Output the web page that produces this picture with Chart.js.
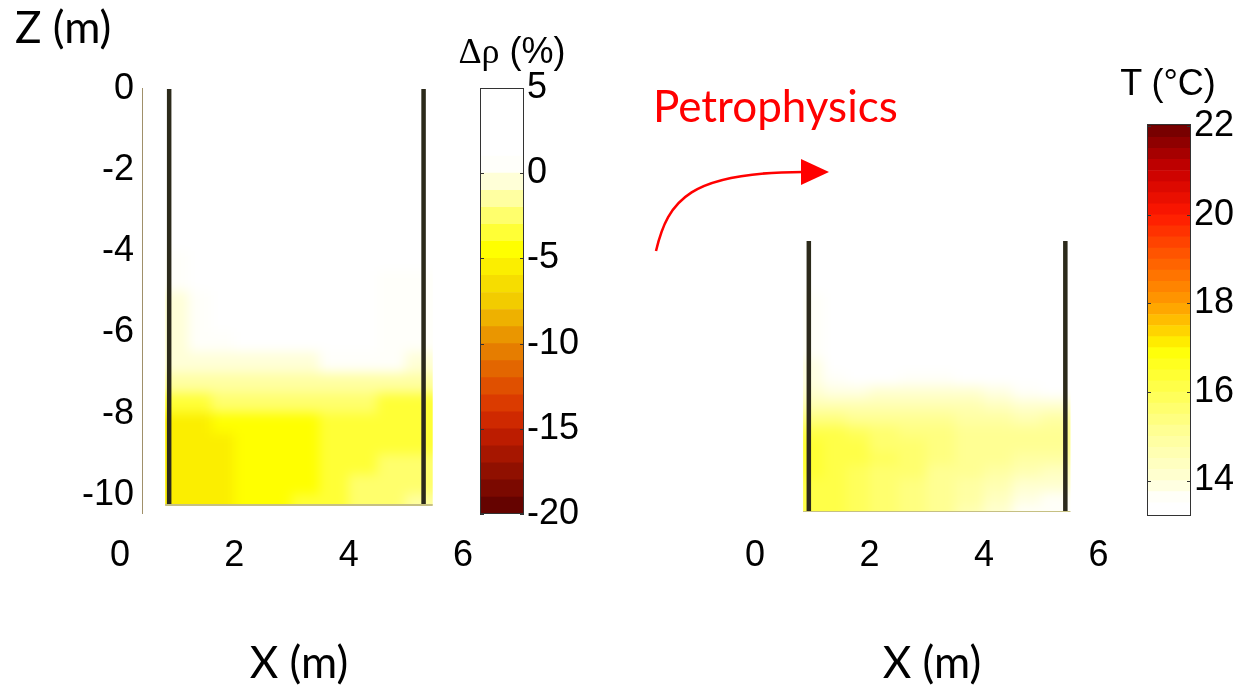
<!DOCTYPE html>
<html>
<head>
<meta charset="utf-8">
<script src="https://cdn.jsdelivr.net/npm/chart.js@4.4.0/dist/chart.umd.min.js"></script>
<style>
  html, body { margin: 0; padding: 0; background: #fff; }
  #stage { position: relative; width: 1240px; height: 688px; overflow: hidden; background: #fff; }
  #stage canvas, #stage svg { position: absolute; left: 0; top: 0; }
  .lbl { position: absolute; white-space: nowrap; line-height: 1; color: #000; }
  .cal { font-family: Lato, "Open Sans", sans-serif; font-size: 44px; }
  .hel { font-family: "Liberation Sans", Arial, sans-serif; font-size: 36px; }
  .gr { font-family: "Liberation Serif", "DejaVu Serif", serif; }
  .mid { transform: translateX(-50%); }
</style>
</head>
<body>
<div id="stage">
  <canvas id="rhoMap" width="1240" height="688"></canvas>
  <canvas id="rhoBar" width="1240" height="688"></canvas>
  <canvas id="tMap" width="1240" height="688"></canvas>
  <canvas id="tBar" width="1240" height="688"></canvas>
  <svg width="1240" height="688" viewBox="0 0 1240 688">
    <path d="M656,251 C668,200 690,172 803,172" stroke="#ff0000" stroke-width="2.5" fill="none"/>
    <polygon points="801,159 829,172 801,185" fill="#ff0000"/>
  </svg>
  <div class="lbl cal" style="left:15px; top:4px;">Z (m)</div>
  <div class="lbl cal" style="left:653px; top:83px; color:#ff0000;">Petrophysics</div>
  <div class="lbl cal mid" style="left:299px; top:639px;">X (m)</div>
  <div class="lbl cal mid" style="left:932px; top:639px;">X (m)</div>
  <div class="lbl hel mid" style="left:512px; top:33px;"><span class="gr">Δρ</span> (%)</div>
  <div class="lbl hel mid" style="left:1168px; top:65px;">T (°C)</div>
</div>
<script>
// ---- tick labels ----
const xTicks = [0, 2, 4, 6];
const zTicks = [0, -2, -4, -6, -8, -10];
const rhoTicks = [5, 0, -5, -10, -15, -20];
const tempTicks = [14, 16, 18, 20, 22];

// ---- colour-scale ranges ----
const rhoRange = [-20, 5];
const tempRange = [13.2, 22.05];

// ---- borehole positions (m) ----
const rhoWellX = [0.86, 5.31];
const tempWellX = [0.94, 5.42];
const wellTop = 0;
const wellBottom = -10.25;

// ---- model cells: column edges (x, m) and row edges (z, m) ----
const rhoXEdges = [0.79, 1.2, 1.6, 2.0, 2.5, 3.0, 3.5, 4.0, 4.5, 5.0, 5.47];
const tempXEdges = [0.84, 1.2, 1.6, 2.0, 2.5, 3.0, 3.5, 4.0, 4.5, 5.0, 5.51];
const zEdges = [0, -0.5, -1, -1.5, -2, -2.5, -3, -3.5, -4, -4.5, -5, -5.5, -6,
                -6.5, -7, -7.5, -8, -8.5, -9, -9.5, -10, -10.25];

// ---- resistivity change, Δρ (%) ----
const rhoGrid = [
  [2, 2, 2, 2, 2, 2, 2, 2, 2, 2],
  [2, 2, 2, 2, 2, 2, 2, 2, 2, 2],
  [2, 2, 2, 2, 2, 2, 2, 2, 2, 2],
  [2, 2, 2, 2, 2, 2, 2, 2, 2, 2],
  [2, 2, 2, 2, 2, 2, 2, 2, 2, 2],
  [2, 2, 2, 2, 2, 2, 2, 2, 2, 2],
  [2, 2, 2, 2, 2, 2, 2, 2, 2, 2],
  [2, 2, 2, 2, 2, 2, 2, 2, 2, 2],
  [0.6, 2, 2, 2, 2, 2, 2, 2, 2, 2],
  [0.4, 1.5, 2, 2, 2, 2, 2, 2, 0.8, 0.6],
  [-0.2, 0.6, 2, 2, 2, 2, 2, 1.2, 0.4, 0.5],
  [-0.3, 0.4, 1.5, 2, 2, 2, 2, 1.5, 0.6, 0.5],
  [-0.4, 0.2, 0.6, 1.2, 1.5, 1.5, 1.5, 1.2, 0.6, 0.3],
  [-0.8, -0.5, -0.3, -0.2, -0.1, -0.1, 0.2, 0.3, 0.1, -0.4],
  [-1.8, -1.6, -1.5, -1.4, -1.3, -1.2, -1.2, -1.3, -1.6, -2.0],
  [-3.4, -3.2, -3.0, -2.9, -2.8, -2.7, -2.7, -2.9, -3.2, -3.5],
  [-5.8, -5.6, -5.0, -4.8, -4.5, -4.2, -4.0, -3.8, -3.7, -3.9],
  [-5.9, -5.7, -5.1, -4.9, -4.6, -4.3, -3.9, -3.4, -3.1, -3.3],
  [-5.9, -5.7, -5.2, -5.0, -4.7, -4.2, -3.7, -3.1, -2.6, -2.5],
  [-5.8, -5.6, -5.2, -5.0, -4.6, -4.1, -3.5, -2.9, -2.3, -2.1],
  [-5.7, -5.4, -5.1, -4.9, -4.5, -4.0, -3.4, -2.8, -2.2, -2.0]
];

// ---- temperature, T (°C) ----
const tempGrid = [
  [13.3, 13.3, 13.3, 13.3, 13.3, 13.3, 13.3, 13.3, 13.3, 13.3],
  [13.3, 13.3, 13.3, 13.3, 13.3, 13.3, 13.3, 13.3, 13.3, 13.3],
  [13.3, 13.3, 13.3, 13.3, 13.3, 13.3, 13.3, 13.3, 13.3, 13.3],
  [13.3, 13.3, 13.3, 13.3, 13.3, 13.3, 13.3, 13.3, 13.3, 13.3],
  [13.7, 13.3, 13.3, 13.3, 13.3, 13.3, 13.3, 13.3, 13.3, 13.3],
  [13.7, 13.3, 13.3, 13.3, 13.3, 13.3, 13.3, 13.3, 13.3, 13.3],
  [13.7, 13.3, 13.3, 13.3, 13.3, 13.3, 13.3, 13.3, 13.3, 13.3],
  [13.7, 13.3, 13.3, 13.3, 13.3, 13.3, 13.3, 13.3, 13.3, 13.3],
  [13.7, 13.3, 13.3, 13.3, 13.3, 13.3, 13.3, 13.3, 13.3, 13.3],
  [13.8, 13.4, 13.3, 13.3, 13.3, 13.3, 13.3, 13.3, 13.3, 13.3],
  [13.9, 13.5, 13.3, 13.4, 13.6, 13.6, 13.4, 13.3, 13.3, 13.3],
  [14.1, 13.9, 13.9, 14.1, 14.2, 14.2, 14.0, 13.8, 13.5, 13.4],
  [14.6, 14.6, 14.6, 14.7, 14.7, 14.6, 14.5, 14.3, 14.1, 14.0],
  [15.3, 15.3, 15.2, 15.2, 15.1, 15.0, 14.9, 14.8, 14.7, 14.8],
  [16.1, 16.0, 15.8, 15.6, 15.4, 15.3, 15.2, 15.2, 15.1, 15.2],
  [16.3, 16.2, 16.0, 15.7, 15.5, 15.3, 15.2, 15.1, 15.0, 15.1],
  [16.3, 16.2, 16.0, 15.8, 15.5, 15.3, 15.1, 15.0, 14.8, 14.8],
  [16.3, 16.1, 15.9, 15.7, 15.5, 15.2, 15.0, 14.8, 14.5, 14.4],
  [16.2, 16.1, 15.9, 15.7, 15.4, 15.2, 14.9, 14.5, 14.1, 14.0],
  [16.2, 16.1, 15.9, 15.7, 15.4, 15.1, 14.8, 14.3, 13.8, 13.7],
  [16.2, 16.0, 15.8, 15.6, 15.3, 15.0, 14.7, 14.2, 13.7, 13.6]
];

// ---- colour maps (value, colour), ascending ----
const rhoStops = [[-20, '#5a0000'], [-15.5, '#bc1c00'], [-14, '#d83000'], [-12.5, '#e05000'],
                  [-10, '#e88800'], [-7.5, '#f2cc00'], [-4.5, '#ffff00'], [0, '#fffff2'],
                  [0.8, '#ffffff'], [5, '#ffffff']];
const tempStops = [[13.2, '#ffffff'], [13.55, '#ffffff'], [14, '#ffffd6'], [15, '#ffff9c'],
                   [16, '#ffff52'], [16.9, '#ffff08'], [17.1, '#ffee00'], [17.5, '#ffc800'],
                   [18, '#ff9c00'], [19, '#ff5c00'], [20, '#ff1800'], [21, '#c80000'],
                   [22.05, '#680000']];
const rhoStep = 1;
const tempStep = 0.25;

const FAMILY = "'Liberation Sans', Arial, sans-serif";
const TICK_FONT = { family: FAMILY, size: 36 };
Chart.defaults.font.family = FAMILY;
Chart.defaults.animation = false;

function rgbOf(h) {
  const n = parseInt(h.slice(1), 16);
  return [(n >> 16) & 255, (n >> 8) & 255, n & 255];
}
function rampColor(stops, v) {
  if (v <= stops[0][0]) return stops[0][1];
  for (let i = 0; i < stops.length - 1; i++) {
    const [v0, c0] = stops[i], [v1, c1] = stops[i + 1];
    if (v <= v1) {
      const t = (v - v0) / (v1 - v0);
      const a = rgbOf(c0), b = rgbOf(c1);
      const m = a.map((q, k) => Math.round(q + (b[k] - q) * t));
      return `rgb(${m[0]},${m[1]},${m[2]})`;
    }
  }
  return stops[stops.length - 1][1];
}
// discrete colour: every value takes the colour of its band centre
function bandColor(stops, step, range, v) {
  let m = (Math.floor(v / step + 1e-9) + 0.5) * step;
  m = Math.min(range[1], Math.max(range[0], m));
  return rampColor(stops, m);
}

// draws the cell grid under the datasets, positioned through the chart's scales
function heatLayer(grid, xEdges, zEdges, stops, step, range, blur) {
  return {
    id: 'heatLayer',
    beforeDatasetsDraw(chart) {
      const ctx = chart.ctx;
      const xs = chart.scales.x, ys = chart.scales.y;
      const px = xEdges.map(v => xs.getPixelForValue(v));
      const py = zEdges.map(v => ys.getPixelForValue(v));
      const L = px[0], R = px[px.length - 1], T = py[0], B = py[py.length - 1];
      const pad = 16;
      const off = document.createElement('canvas');
      off.width = Math.ceil(R - L) + 2 * pad;
      off.height = Math.ceil(B - T) + 2 * pad;
      const o = off.getContext('2d');
      const nr = grid.length, nc = grid[0].length;
      for (let r = 0; r < nr; r++) {
        for (let c = 0; c < nc; c++) {
          let x0 = px[c] - L + pad, x1 = px[c + 1] - L + pad;
          let y0 = py[r] - T + pad, y1 = py[r + 1] - T + pad;
          if (c === 0) x0 = 0;
          if (c === nc - 1) x1 = off.width;
          if (r === 0) y0 = 0;
          if (r === nr - 1) y1 = off.height;
          o.fillStyle = bandColor(stops, step, range, grid[r][c]);
          o.fillRect(Math.floor(x0), Math.floor(y0), Math.ceil(x1 - x0) + 1, Math.ceil(y1 - y0) + 1);
        }
      }
      ctx.save();
      ctx.beginPath();
      ctx.rect(L, T, R - L, B - T);
      ctx.clip();
      ctx.filter = `blur(${blur}px)`;
      ctx.drawImage(off, L - pad, T - pad);
      ctx.restore();
    }
  };
}

function heatChart(id, cfg) {
  const lastZ = zEdges[zEdges.length - 1];
  const datasets = [
    {
      data: [{ x: cfg.xEdges[0], y: lastZ }, { x: cfg.xEdges[cfg.xEdges.length - 1], y: lastZ }],
      showLine: true, borderColor: '#c6c083', borderWidth: 2, pointRadius: 0
    },
    ...cfg.wellX.map(x => ({
      data: [{ x, y: wellTop }, { x, y: wellBottom }],
      showLine: true, borderColor: '#2c2a1b', borderWidth: 4.5, pointRadius: 0,
      borderCapStyle: 'butt'
    }))
  ];
  return new Chart(document.getElementById(id), {
    type: 'scatter',
    data: { datasets },
    options: {
      responsive: false,
      animation: false,
      events: [],
      layout: { padding: cfg.padding },
      plugins: { legend: { display: false }, tooltip: { enabled: false } },
      scales: {
        x: {
          type: 'linear', min: cfg.xMin, max: cfg.xMax,
          afterFit: s => { s.height = 100; },
          afterBuildTicks: s => { s.ticks = xTicks.map(v => ({ value: v })); },
          grid: { display: false, drawTicks: false }, border: { display: false },
          ticks: { autoSkip: false, maxRotation: 0, padding: cfg.xPad, font: TICK_FONT, color: '#000' }
        },
        y: {
          type: 'linear', min: cfg.yMin, max: cfg.yMax, display: cfg.showY,
          afterFit: s => { s.width = cfg.yWidth; },
          afterBuildTicks: s => { s.ticks = zTicks.map(v => ({ value: v })); },
          grid: { display: false, drawTicks: false },
          border: { display: true, color: '#a0906a', width: 1 },
          ticks: { autoSkip: false, padding: 8, font: TICK_FONT, color: '#000' }
        }
      }
    },
    plugins: [heatLayer(cfg.grid, cfg.xEdges, zEdges, cfg.stops, cfg.step, cfg.range, 6)]
  });
}

// frame and inward tick marks of a colour bar
const barFrame = {
  id: 'barFrame',
  afterDatasetsDraw(chart) {
    const { ctx, chartArea: a } = chart;
    const ys = chart.scales.y;
    ctx.save();
    ctx.strokeStyle = '#333';
    ctx.lineWidth = 1;
    ctx.beginPath();
    ys.ticks.forEach(t => {
      const y = Math.round(ys.getPixelForValue(t.value)) + 0.5;
      ctx.moveTo(a.left, y); ctx.lineTo(a.left + 4, y);
      ctx.moveTo(a.right, y); ctx.lineTo(a.right - 4, y);
    });
    ctx.stroke();
    ctx.strokeRect(Math.round(a.left) + 0.5, Math.round(a.top) + 0.5,
                   Math.round(a.right - a.left) - 1, Math.round(a.bottom - a.top) - 1);
    ctx.restore();
  }
};

function colorBar(id, cfg) {
  const bands = [];
  let lo = cfg.range[0];
  while (lo < cfg.range[1] - 1e-9) {
    const hi = Math.min(cfg.range[1], (Math.floor(lo / cfg.step + 1e-9) + 1) * cfg.step);
    bands.push([lo, hi]);
    lo = hi;
  }
  const datasets = bands.map(b => ({
    data: [b],
    backgroundColor: rampColor(cfg.stops, Math.min(cfg.range[1], (Math.floor(b[0] / cfg.step + 1e-9) + 0.5) * cfg.step)),
    borderWidth: 0, barPercentage: 1, categoryPercentage: 1, grouped: false
  }));
  return new Chart(document.getElementById(id), {
    type: 'bar',
    data: { labels: [''], datasets },
    options: {
      responsive: false,
      animation: false,
      events: [],
      layout: { padding: cfg.padding },
      plugins: { legend: { display: false }, tooltip: { enabled: false } },
      scales: {
        x: { display: false },
        y: {
          position: 'right', min: cfg.range[0], max: cfg.range[1],
          afterFit: s => { s.width = cfg.yWidth; },
          afterBuildTicks: s => { s.ticks = cfg.ticks.map(v => ({ value: v })); },
          grid: { display: false, drawTicks: false }, border: { display: false },
          ticks: { autoSkip: false, padding: 3, font: TICK_FONT, color: '#000' }
        }
      }
    },
    plugins: [barFrame]
  });
}

// left panel: resistivity change
heatChart('rhoMap', {
  grid: rhoGrid, xEdges: rhoXEdges, wellX: rhoWellX,
  stops: rhoStops, step: rhoStep, range: rhoRange,
  xMin: 0.3848, xMax: 6.2095, yMin: -10.45, yMax: 0.025,
  showY: true, yWidth: 142, xPad: 21,
  padding: { left: 0, right: 765, top: 88, bottom: 688 - 513 - 100 }
});
colorBar('rhoBar', {
  range: rhoRange, stops: rhoStops, step: rhoStep, ticks: rhoTicks, yWidth: 60,
  padding: { left: 480, right: 1240 - 524 - 60, top: 88, bottom: 688 - 514 }
});

// right panel: temperature
heatChart('tMap', {
  grid: tempGrid, xEdges: tempXEdges, wellX: tempWellX,
  stops: tempStops, step: tempStep, range: tempRange,
  xMin: 0, xMax: 6.2, yMin: -10.25, yMax: 0,
  showY: false, yWidth: 0, xPad: 22,
  padding: { left: 755, right: 130, top: 241, bottom: 688 - 512 - 100 }
});
colorBar('tBar', {
  range: tempRange, stops: tempStops, step: tempStep, ticks: tempTicks, yWidth: 49,
  padding: { left: 1147, right: 0, top: 124, bottom: 688 - 516 }
});
</script>
</body>
</html>
